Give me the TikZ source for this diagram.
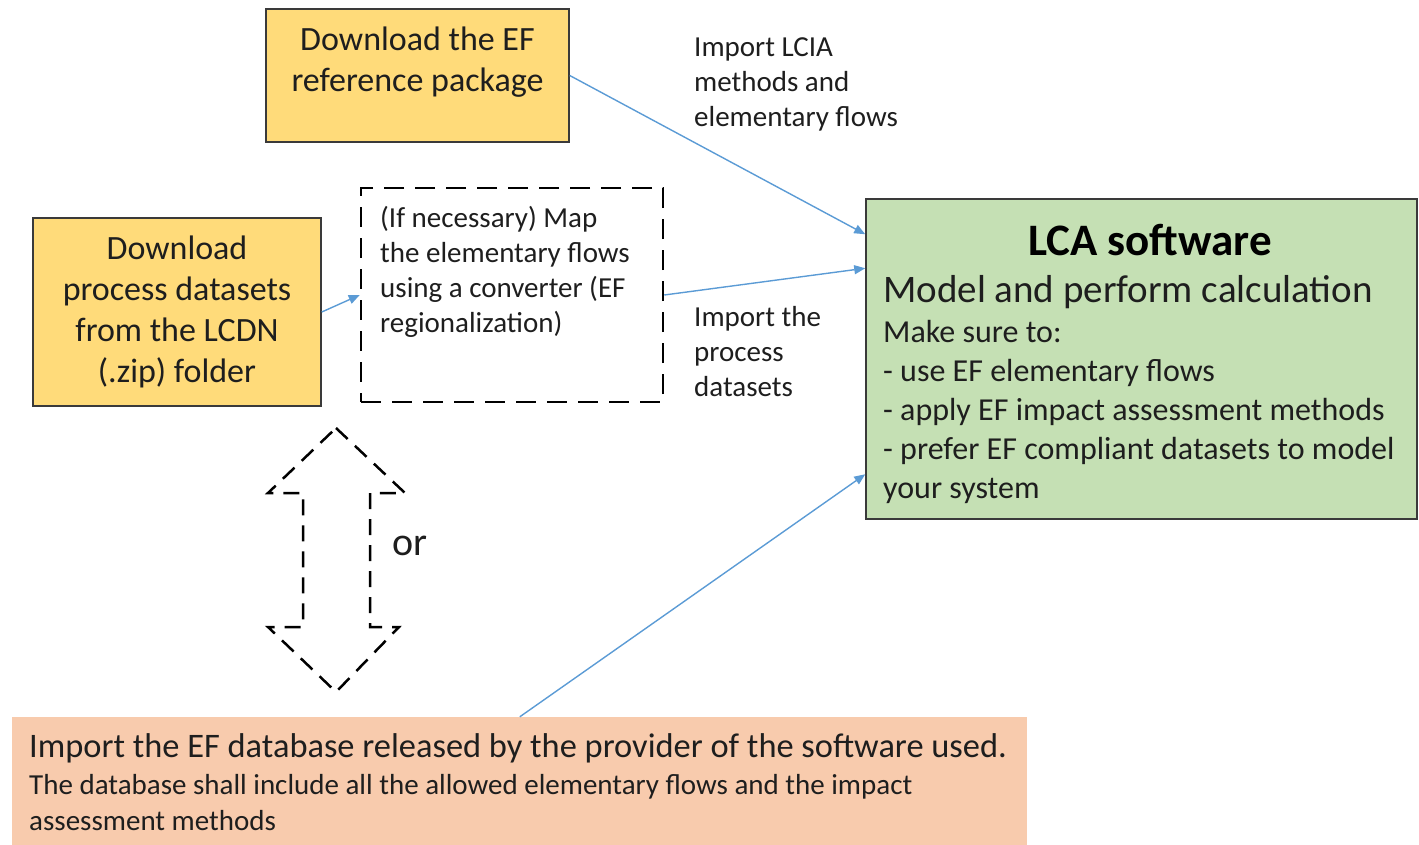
\documentclass[tikz,border=0pt]{standalone}
\usepackage{fontspec}
\setmainfont{Carlito}
\usetikzlibrary{arrows.meta,calc}
\definecolor{yel}{HTML}{FFDB7A}
\definecolor{grn}{HTML}{C5E0B4}
\definecolor{org}{HTML}{F8CBAD}
\definecolor{arrblue}{HTML}{5B9BD5}
\definecolor{edge}{HTML}{3A3A3A}
\definecolor{txt}{HTML}{1E1E1E}
\tikzset{
  box/.style={draw=edge, line width=1.5pt, inner sep=0pt},
  ybox/.style={box, fill=yel},
  dbox/.style={draw=black, line width=2.5pt, dash pattern=on 20pt off 11pt, inner sep=0pt},
  conn/.style={draw=arrblue, line width=1.4pt, -{Triangle[length=11pt,width=9pt]}},
  big/.style={font=\fontsize{34}{41}\selectfont, text=txt, align=center, inner sep=0pt},
  lbl/.style={font=\fontsize{29}{35}\selectfont, text=txt, align=left, inner sep=0pt, anchor=west},
  twoarrow/.style={draw=black, line width=2.5pt, dash pattern=on 16pt off 10pt},
}
\begin{document}
\begin{tikzpicture}[x=1pt,y=-1pt]
\useasboundingbox (0,0) rectangle (1419,844);
% boxes
\node[ybox, minimum width=303pt, minimum height=133pt] (ef) at (417.5,75.5) {};
\node[big] (eftext) at (417.5,62) {Download the EF\\reference package};
\node[ybox, minimum width=288pt, minimum height=188pt, big] (dl) at (177,312) {Download\\process datasets\\from the LCDN\\(.zip) folder};
\node[dbox, minimum width=302pt, minimum height=214pt] (map) at (512,295) {};
\node[lbl] (maptext) at (380,272) {(If necessary) Map\\the elementary flows\\using a converter (EF\\regionalization)};
\node[box, fill=grn, minimum width=551pt, minimum height=320pt] (lca) at (1141.5,359) {};
\node[font=\bfseries\fontsize{45}{54}\selectfont, text=black, inner sep=0pt] (lcatitle) at (1150,240) {LCA software};
\node[font=\fontsize{39}{47}\selectfont, text=txt, inner sep=0pt, anchor=west] (lcamodel) at (883,292) {Model and perform calculation};
\node[font=\fontsize{32}{39}\selectfont, text=txt, inner sep=0pt, anchor=west, align=left] (lcabody) at (883,412) {Make sure to:\\- use EF elementary flows\\- apply EF impact assessment methods\\- prefer EF compliant datasets to model\\your system};
\node[draw=none, fill=org, minimum width=1015pt, minimum height=140pt, inner sep=0pt] (db) at (519.5,787) {};
\node[font=\fontsize{34.4}{41}\selectfont, text=txt, inner sep=0pt, anchor=west] (dbtitle) at (29,748) {Import the EF database released by the provider of the software used.};
\node[font=\fontsize{29}{36}\selectfont, text=txt, inner sep=0pt, anchor=west, align=left] (dbbody) at (29,803) {The database shall include all the allowed elementary flows and the impact\\assessment methods};
% labels
\node[lbl] (l1) at (694,84) {Import LCIA\\methods and\\elementary flows};
\node[lbl] (l2) at (694,352) {Import the\\process\\datasets};
\node[font=\fontsize{40}{48}\selectfont, text=txt, inner sep=0pt, anchor=west] (or) at (392,546) {or};
% connectors
\draw[conn] (ef.east) -- ([yshift=-36pt]lca.north west);
\draw[conn] (dl.east) -- (map.west);
\draw[conn] (map.east) -- ([yshift=-70pt]lca.north west);
\draw[conn] ([xshift=508pt]db.north west) -- ([yshift=-276pt]lca.north west);
% double arrow
\draw[twoarrow] (336,428) -- (405,493) -- (370,493) -- (370,627) -- (399,627) -- (336,692) -- (268,627) -- (303,627) -- (303,493) -- (268,493) -- cycle;
\end{tikzpicture}
\end{document}
